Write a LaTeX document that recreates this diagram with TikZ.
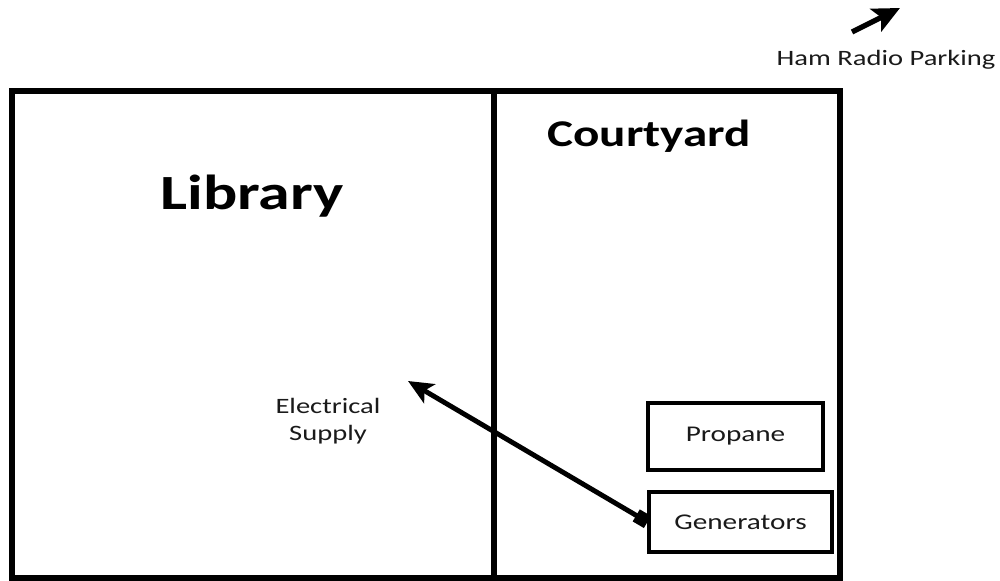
\documentclass[tikz,border=0pt]{standalone}
\usepackage{fontspec}
\setmainfont{Carlito}[FakeStretch=1.3]
\usepackage{xcolor}
\usetikzlibrary{arrows.meta,positioning}
\definecolor{ink}{HTML}{000000}
\definecolor{label}{HTML}{1A1A1A}
\tikzset{
  wall/.style={draw=ink, line width=2.9pt, line join=miter},
  room/.style={font=\bfseries\fontsize{28}{30}\selectfont, text=ink},
  area/.style={font=\bfseries\fontsize{21.5}{24}\selectfont, text=ink},
  unit/.style={draw=ink, line width=1.8pt, fill=white, inner sep=0pt,
               font=\fontsize{12.8}{15}\selectfont, text=label},
  note/.style={font=\fontsize{12.5}{15.3}\selectfont, text=label, align=center},
  feed/.style={{Square[length=2.6mm,width=2.8mm]}-{Stealth[length=5mm,width=4.4mm,inset=1.2mm]},
               line width=2.8pt, draw=ink},
  pointer/.style={-{Stealth[length=5.4mm,width=5mm,inset=1.2mm]}, line width=3pt, draw=ink}
}
\begin{document}
\begin{tikzpicture}[x=0.02cm,y=0.02cm]
        \useasboundingbox (0,0) rectangle (1000,581);
        % site outline: library on the left, courtyard on the right
        \draw[wall] (12,3) rectangle (840,490);
        \draw[wall] (494,3) -- (494,490);
        \node[room] (lib) at (252,385) {Library};
        \node[area] (court) at (649,445) {Courtyard};
        % equipment in the courtyard
        \node[unit, minimum width=175*0.02cm, minimum height=67*0.02cm] (propane) at (735.5,144.5) {Propane};
        \node[unit, minimum width=183*0.02cm, minimum height=60*0.02cm] (gen) at (740.5,59) {Generators};
        % power run into the library
        \node[note] (elec) at (328,160) {Electrical\\Supply};
        \coordinate (supply) at (408,200);
        \draw[feed] (gen.west) -- (supply);
        % pointer to parking
        \node[note] (ham) at (886,521) {Ham Radio Parking};
        \coordinate (hamtail) at (852,549);
        \coordinate (hamtip) at (900,573);
        \draw[pointer] (hamtail) -- (hamtip);
      \end{tikzpicture}
\end{document}
